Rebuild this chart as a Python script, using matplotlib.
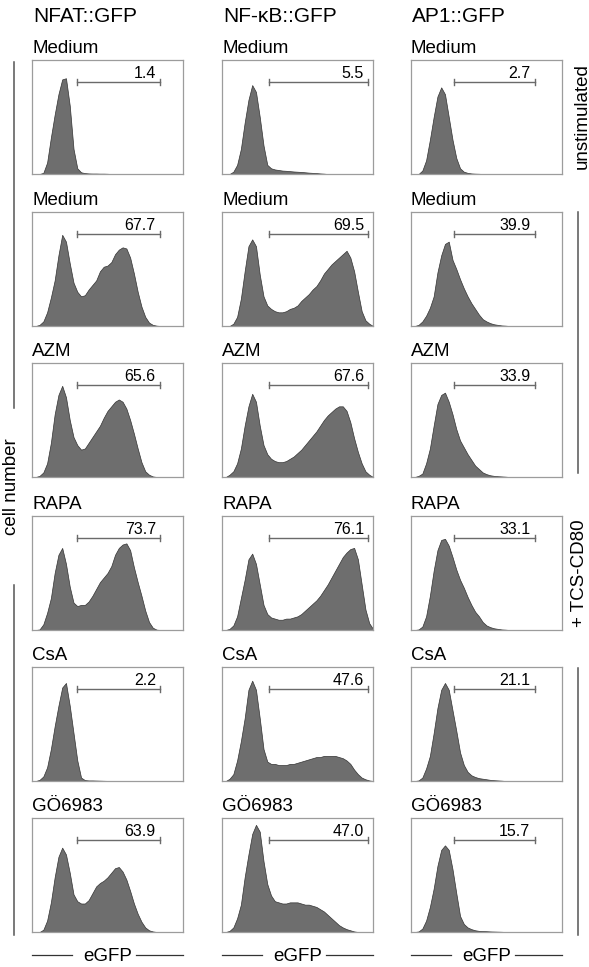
import matplotlib
matplotlib.use("Agg")
import matplotlib.pyplot as plt
from matplotlib.lines import Line2D

plt.rcParams["font.family"] = ["Liberation Sans", "DejaVu Sans"]

# eGFP channel (41 bins across each plot); counts as % of the plot height
CHANNEL = list(range(41))

NFAT_UNSTIM = [0, 0, 0, 1, 10, 32, 52, 70, 83, 84, 60, 22, 5, 1.5, 0.8, 0.5, 0.4, 0.4, 0.3, 0.3,
               0.2, 0, 0, 0, 0, 0, 0, 0, 0, 0, 0, 0, 0, 0, 0, 0, 0, 0, 0, 0, 0]
NFAT_MEDIUM = [0, 0, 1, 4, 12, 25, 40, 62, 80, 74, 55, 38, 30, 26, 27, 32, 36, 40, 48, 52,
               53, 56, 63, 67, 69, 68, 60, 46, 30, 17, 8, 3, 1, 0.3, 0, 0, 0, 0, 0, 0, 0]
NFAT_AZM = [0, 0, 1, 4, 12, 30, 55, 72, 80, 70, 50, 35, 28, 24, 25, 30, 35, 40, 45, 52,
            58, 62, 66, 68, 66, 60, 50, 38, 25, 13, 5, 2, 0.5, 0, 0, 0, 0, 0, 0, 0, 0]
NFAT_RAPA = [0, 0, 0.5, 5, 15, 28, 50, 66, 72, 58, 38, 24, 21, 22, 22, 25, 30, 36, 42, 46,
             50, 56, 66, 72, 75, 76, 70, 55, 42, 30, 17, 7, 2, 0.3, 0, 0, 0, 0, 0, 0, 0]
NFAT_CSA = [0, 0, 1, 4, 12, 28, 48, 66, 82, 86, 66, 42, 18, 3, 0.8, 0.5, 0.5, 0.4, 0.3, 0.2,
            0.1, 0, 0, 0, 0, 0, 0, 0, 0, 0, 0, 0, 0, 0, 0, 0, 0, 0, 0, 0, 0]
NFAT_GO = [0, 0, 0, 2, 10, 26, 48, 66, 74, 68, 52, 33, 27, 25, 25, 28, 34, 40, 43, 45,
           48, 52, 56, 57, 53, 46, 36, 25, 16, 9, 4, 1.5, 0.5, 0, 0, 0, 0, 0, 0, 0, 0]

NFKB_UNSTIM = [0, 0, 0, 2, 8, 22, 45, 65, 78, 72, 50, 25, 8, 5, 4, 3.5, 3, 2.8, 2.5, 2.2,
               2, 1.8, 1.5, 1.2, 1, 0.8, 0.5, 0.3, 0, 0, 0, 0, 0, 0, 0, 0, 0, 0, 0, 0, 0]
NFKB_MEDIUM = [0, 0, 0, 2, 8, 24, 48, 70, 76, 70, 45, 26, 18, 15, 13, 12, 12, 13, 15, 16,
               18, 22, 25, 28, 32, 35, 40, 46, 50, 54, 57, 60, 63, 66, 60, 48, 30, 13, 5, 2, 0]
NFKB_AZM = [0, 0, 2, 5, 12, 25, 45, 62, 73, 66, 45, 28, 20, 16, 14, 13, 13, 14, 16, 18,
            21, 24, 28, 32, 36, 40, 45, 50, 54, 57, 60, 62, 62, 58, 48, 34, 22, 12, 5, 2, 0]
NFKB_RAPA = [0, 0, 1, 4, 12, 28, 44, 62, 67, 58, 40, 22, 14, 11, 10, 9, 9, 10, 10, 11,
             12, 14, 17, 20, 23, 26, 30, 35, 40, 46, 52, 58, 64, 68, 71, 72, 62, 40, 18, 6, 1]
NFKB_CSA = [0, 0, 2, 6, 18, 35, 55, 80, 88, 80, 55, 28, 17, 15, 15, 14, 14, 14, 15, 15,
            16, 17, 18, 19, 20, 21, 21, 22, 22, 22, 22, 21, 20, 18, 15, 10, 6, 3, 1.5, 0.5, 0]
NFKB_GO = [0, 0, 1, 4, 12, 24, 48, 68, 86, 94, 88, 62, 42, 32, 27, 26, 25, 25, 26, 26,
           26, 25, 24, 24, 23, 22, 20, 18, 15, 12, 9, 6, 4, 2.5, 1.5, 0.5, 0, 0, 0, 0, 0]

AP1_UNSTIM = [0, 0, 0, 3, 12, 30, 50, 68, 76, 70, 50, 30, 14, 5, 2, 1, 0.5, 0.3, 0.2, 0,
              0, 0, 0, 0, 0, 0, 0, 0, 0, 0, 0, 0, 0, 0, 0, 0, 0, 0, 0, 0, 0]
AP1_MEDIUM = [0, 0, 1, 4, 9, 16, 26, 47, 62, 72, 74, 58, 50, 41, 33, 26, 20, 15, 10, 6,
              4, 2.5, 1.5, 1, 0.5, 0.3, 0, 0, 0, 0, 0, 0, 0, 0, 0, 0, 0, 0, 0, 0, 0]
AP1_AZM = [0, 0, 1, 3, 12, 25, 45, 64, 72, 74, 66, 55, 42, 32, 26, 20, 15, 10, 7, 4,
           2.5, 1.5, 1, 0.7, 0.5, 0.3, 0, 0, 0, 0, 0, 0, 0, 0, 0, 0, 0, 0, 0, 0, 0]
AP1_RAPA = [0, 0, 0.5, 3, 12, 30, 52, 70, 79, 80, 74, 64, 53, 44, 37, 29, 22, 16, 12, 7,
            4, 2.5, 1.5, 1, 0.5, 0.3, 0, 0, 0, 0, 0, 0, 0, 0, 0, 0, 0, 0, 0, 0, 0]
AP1_CSA = [0, 0, 0.5, 3, 11, 22, 42, 64, 80, 86, 80, 62, 44, 25, 14, 8, 5, 3.5, 2.5, 2,
           1.5, 1, 0.7, 0.5, 0.3, 0, 0, 0, 0, 0, 0, 0, 0, 0, 0, 0, 0, 0, 0, 0, 0]
AP1_GO = [0, 0, 0.5, 3, 10, 22, 38, 58, 72, 76, 72, 55, 34, 14, 7, 4, 2.5, 1.5, 1, 0.8,
          0.7, 0.5, 0.4, 0.3, 0.2, 0, 0, 0, 0, 0, 0, 0, 0, 0, 0, 0, 0, 0, 0, 0, 0]

REPORTERS = ["NFAT::GFP", "NF-\u03baB::GFP", "AP1::GFP"]
CONDITIONS = ["Medium", "Medium", "AZM", "RAPA", "CsA", "G\u00d66983"]
NFAT_PCT = ["1.4", "67.7", "65.6", "73.7", "2.2", "63.9"]
NFKB_PCT = ["5.5", "69.5", "67.6", "76.1", "47.6", "47.0"]
AP1_PCT = ["2.7", "39.9", "33.9", "33.1", "21.1", "15.7"]
# gate start / end on the channel axis, per reporter
GATE_START = [12.0, 12.4, 11.4]
GATE_END = [34.0, 38.8, 32.8]

HISTS = [
    [NFAT_UNSTIM, NFAT_MEDIUM, NFAT_AZM, NFAT_RAPA, NFAT_CSA, NFAT_GO],
    [NFKB_UNSTIM, NFKB_MEDIUM, NFKB_AZM, NFKB_RAPA, NFKB_CSA, NFKB_GO],
    [AP1_UNSTIM, AP1_MEDIUM, AP1_AZM, AP1_RAPA, AP1_CSA, AP1_GO],
]
PCTS = [NFAT_PCT, NFKB_PCT, AP1_PCT]

W, H = 589, 967
COL_LEFT = [32, 222, 411]
ROW_TOP = [60, 212, 363, 516, 667, 818]
BOX_W, BOX_H = 151, 114

FILL = "#6e6e6e"
EDGE = "#333333"
FRAME = "#9c9c9c"
GATE = "#6a6a6a"
LINE = "#555555"


def fx(x):
    return x / W


def fy(y):
    return 1 - y / H


def vline(fig, x, y0, y1):
    fig.add_artist(Line2D([fx(x), fx(x)], [fy(y0), fy(y1)], color=LINE, lw=1.1))


def hline(fig, x0, x1, y):
    fig.add_artist(Line2D([fx(x0), fx(x1)], [fy(y), fy(y)], color="#333333", lw=0.9))


def main():
    fig = plt.figure(figsize=(W / 100, H / 100), dpi=100)

    for c, left in enumerate(COL_LEFT):
        fig.text(fx(left + 1), fy(22), REPORTERS[c], fontsize=15, ha="left", va="baseline")
        for r, top in enumerate(ROW_TOP):
            ax = fig.add_axes([fx(left), fy(top + BOX_H), BOX_W / W, BOX_H / H])
            ax.fill_between(CHANNEL, HISTS[c][r], color=FILL, edgecolor=EDGE, lw=0.5)
            ax.set_xlim(0, 40)
            ax.set_ylim(0, 100)
            ax.set_xticks([])
            ax.set_yticks([])
            for s in ax.spines.values():
                s.set_color(FRAME)
                s.set_linewidth(0.9)

            g0, g1, gy = GATE_START[c], GATE_END[c], 81
            ax.plot([g0, g1], [gy, gy], color=GATE, lw=1.0)
            ax.plot([g0, g0], [gy - 2.5, gy + 2.5], color=GATE, lw=1.0)
            ax.plot([g1, g1], [gy - 2.5, gy + 2.5], color=GATE, lw=1.0)
            ax.text(g1 - 1.2, gy + 3.5, PCTS[c][r], fontsize=11.5, ha="right", va="baseline")

            fig.text(fx(left), fy(top - 7), CONDITIONS[r], fontsize=13.5, ha="left", va="baseline")

        # eGFP axis label with rules on both sides
        hline(fig, left, left + 40, 955)
        hline(fig, left + 104, left + BOX_W, 955)
        fig.text(fx(left + BOX_W / 2), fy(961), "eGFP", fontsize=13.5, ha="center", va="baseline")

    # left bracket and y label
    vline(fig, 14, 62, 408)
    vline(fig, 14, 585, 935)
    fig.text(fx(12), fy(487), "cell number", fontsize=13.5, rotation=90, ha="center", va="center")

    # right annotations
    fig.text(fx(582), fy(116), "unstimulated", fontsize=13.5, rotation=90, ha="center", va="center")
    vline(fig, 578, 212, 473)
    fig.text(fx(580), fy(573), "+ TCS-CD80", fontsize=13.5, rotation=90, ha="center", va="center")
    vline(fig, 578, 668, 935)

    fig.savefig("out.png", dpi=100)
    plt.close(fig)


if __name__ == "__main__":
    main()
